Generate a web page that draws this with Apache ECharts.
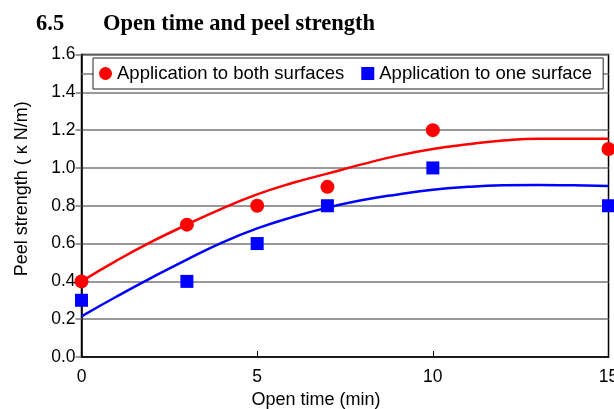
<!DOCTYPE html>
<html>
<head>
<meta charset="utf-8">
<script src="https://cdn.jsdelivr.net/npm/echarts@6/dist/echarts.min.js"></script>
<style>
  html, body { margin: 0; padding: 0; background: #fff; }
  #chart { width: 614px; height: 409px; }
</style>
</head>
<body>
<div id="chart"></div>
<script>
// measured points
var openTime = [0, 3, 5, 7, 10, 15];
var bothSurfaces = [0.4, 0.7, 0.8, 0.9, 1.2, 1.1];
var oneSurface = [0.3, 0.4, 0.6, 0.8, 1.0, 0.8];

// trend curves at each minute
var fitTime = [0, 1, 2, 3, 4, 5, 6, 7, 8, 9, 10, 11, 12, 13, 14, 15];
var bothFit = [0.40, 0.51, 0.61, 0.70, 0.785, 0.86, 0.92, 0.97, 1.02, 1.065, 1.10, 1.125, 1.145, 1.155, 1.155, 1.155];
var oneFit = [0.215, 0.32, 0.42, 0.515, 0.605, 0.68, 0.74, 0.79, 0.83, 0.86, 0.885, 0.90, 0.908, 0.91, 0.908, 0.905];

var seriesNames = ['Application to both surfaces', 'Application to one surface'];

function pairs(xs, ys) {
    return xs.map(function (x, i) { return [x, ys[i]]; });
}

var myChart = echarts.init(document.getElementById('chart'));
var labelFont = 'Liberation Sans, Arial, sans-serif';
var titleFont = 'Liberation Serif, Times New Roman, serif';

var option = {
    animation: false,
    title: [{
        text: '6.5',
        left: 36, top: 13, padding: 0,
        textStyle: { fontFamily: titleFont, fontWeight: 'bold', fontSize: 22.5, color: '#000' }
    }, {
        text: 'Open time and peel strength',
        left: 103, top: 13, padding: 0,
        textStyle: { fontFamily: titleFont, fontWeight: 'bold', fontSize: 22.5, color: '#000' }
    }],
    legend: {
        data: [
            { name: seriesNames[0], icon: 'circle' },
            { name: seriesNames[1], icon: 'rect' }
        ],
        left: 93, top: 58,
        padding: [6, 11, 6, 6],
        itemWidth: 13, itemHeight: 13, itemGap: 17,
        backgroundColor: '#fff',
        borderColor: '#222', borderWidth: 1,
        textStyle: { fontFamily: labelFont, fontSize: 18.5, color: '#000' },
        z: 10
    },
    grid: {
        left: 81.5, right: 5.5, top: 54.5, bottom: 52,
        outerBoundsMode: 'none',
        show: true, borderColor: '#000', borderWidth: 1.5,
        containLabel: false
    },
    xAxis: {
        type: 'value',
        min: 0, max: 15, interval: 5,
        name: 'Open time (min)',
        nameLocation: 'middle', nameGap: 34,
        nameTextStyle: { fontFamily: labelFont, fontSize: 18, color: '#000', padding: [0, 58, 0, 0] },
        axisLine: { lineStyle: { color: '#000', width: 1.5 } },
        axisTick: { inside: true, length: 6, lineStyle: { color: '#000', width: 1 } },
        axisLabel: { margin: 11, fontFamily: labelFont, fontSize: 17.5, color: '#000' },
        splitLine: { show: false }
    },
    yAxis: {
        type: 'value',
        min: 0, max: 1.6, interval: 0.2,
        name: 'Peel strength ( κ N/m)',
        nameLocation: 'middle', nameGap: 50,
        nameTextStyle: { fontFamily: labelFont, fontSize: 18, color: '#000', padding: [0, 0, 0, 34] },
        axisLine: { lineStyle: { color: '#000', width: 1.5 } },
        axisTick: { length: 6, lineStyle: { color: '#777', width: 1.5 } },
        axisLabel: {
            margin: 6, fontFamily: labelFont, fontSize: 17.5, color: '#000',
            formatter: function (v) { return v.toFixed(1); }
        },
        splitLine: { lineStyle: { color: '#777', width: 1.5 } }
    },
    series: [{
        name: 'both fit',
        type: 'line',
        data: pairs(fitTime, bothFit),
        smooth: true,
        showSymbol: false,
        silent: true,
        lineStyle: { color: '#ff0000', width: 2.5 },
        markLine: {
            silent: true, symbol: 'none',
            label: { show: false },
            lineStyle: { color: '#777', width: 1.5, type: 'solid' },
            data: [{ yAxis: 1.5 }]
        }
    }, {
        name: 'one fit',
        type: 'line',
        data: pairs(fitTime, oneFit),
        smooth: true,
        showSymbol: false,
        silent: true,
        lineStyle: { color: '#0000ff', width: 2.5 }
    }, {
        name: seriesNames[0],
        type: 'scatter',
        data: pairs(openTime, bothSurfaces),
        symbol: 'circle',
        symbolSize: 14,
        itemStyle: { color: '#ff0000', opacity: 1 },
        z: 5
    }, {
        name: seriesNames[1],
        type: 'scatter',
        data: pairs(openTime, oneSurface),
        symbol: 'rect',
        symbolSize: 13,
        itemStyle: { color: '#0000ff', opacity: 1 },
        z: 5
    }]
};

myChart.setOption(option);
window.addEventListener('resize', function () { myChart.resize(); });
</script>
</body>
</html>
